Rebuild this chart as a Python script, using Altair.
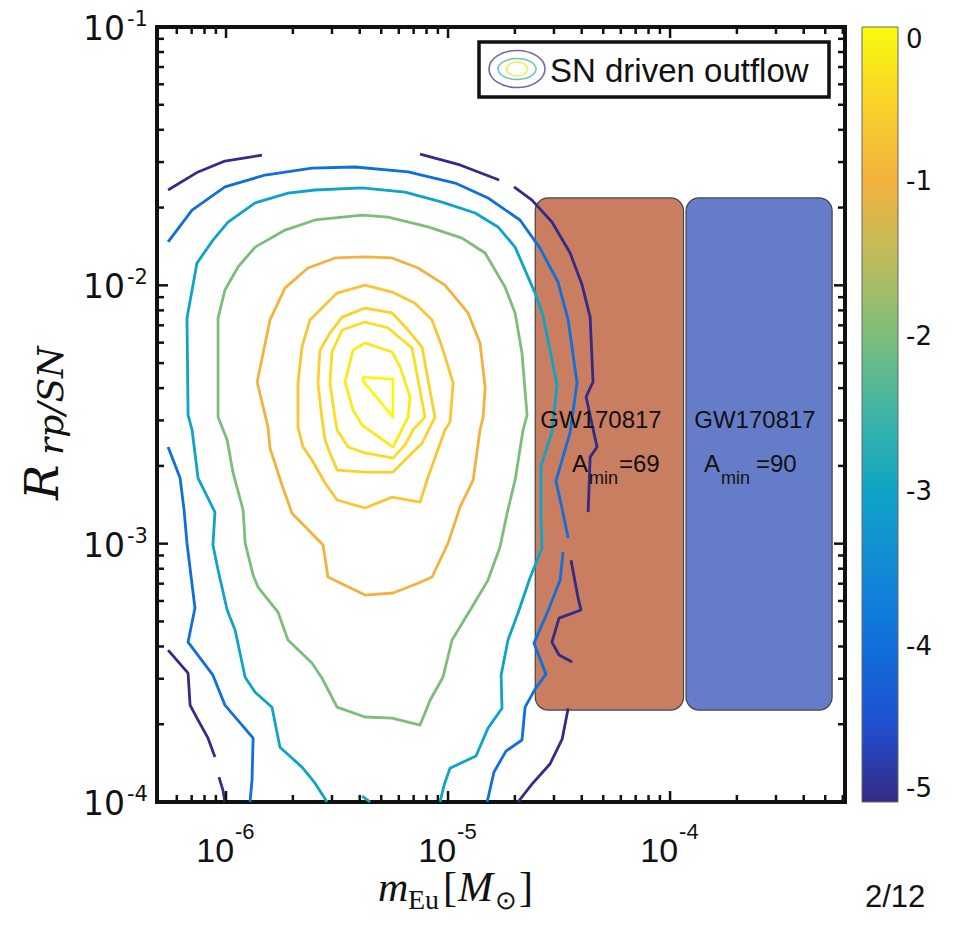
import altair as alt
import pandas as pd

# ---------------- data (log10 m_Eu, log10 R_rp/SN) ----------------
navy_1 = [(-6.261,-1.631),(-6.126,-1.561),(-6.005,-1.519),(-5.838,-1.496)]
navy_2 = [(-5.126,-1.492),(-4.946,-1.534),(-4.770,-1.592)]
navy_3 = [(-4.703,-1.619),(-4.622,-1.670),(-4.532,-1.755),(-4.450,-1.875),(-4.396,-1.999),(-4.360,-2.123),
          (-4.347,-2.374),(-4.378,-2.432),(-4.329,-2.626),(-4.360,-2.665),(-4.369,-2.878)]
navy_4 = [(-4.446,-3.064),(-4.414,-3.211),(-4.401,-3.257),(-4.500,-3.288),(-4.532,-3.381),(-4.500,-3.431),(-4.441,-3.458)]
navy_5 = [(-4.459,-3.637),(-4.486,-3.757),(-4.541,-3.853),(-4.622,-3.931),(-4.685,-4.0)]
navy_6 = [(-6.261,-3.412),(-6.171,-3.501),(-6.162,-3.625),(-6.126,-3.683),(-6.081,-3.753),(-6.050,-3.826)]
navy_7 = [(-6.032,-3.904),(-6.014,-3.954),(-6.005,-4.0)]

blue_1 = [(-6.261,-1.832),(-6.153,-1.709),(-6.005,-1.619),(-5.824,-1.573),(-5.613,-1.546),(-5.419,-1.542),
          (-5.180,-1.561),(-4.968,-1.604),(-4.820,-1.662),(-4.676,-1.747),(-4.586,-1.856),(-4.505,-1.987),
          (-4.459,-2.134),(-4.419,-2.378),(-4.450,-2.568),(-4.514,-2.758),(-4.486,-2.866),(-4.459,-2.978)]
blue_2 = [(-4.482,-3.033),(-4.495,-3.141),(-4.554,-3.269),(-4.613,-3.385),(-4.559,-3.505),(-4.608,-3.563),
          (-4.653,-3.633),(-4.667,-3.760),(-4.739,-3.803),(-4.793,-3.884),(-4.824,-4.0)]
blue_3 = [(-6.261,-2.626),(-6.207,-2.746),(-6.189,-2.870),(-6.176,-2.998),(-6.140,-3.249),(-6.171,-3.381),
          (-6.059,-3.509),(-6.005,-3.625),(-5.878,-3.753),(-5.883,-3.915),(-5.892,-4.0)]

cyan_1 = [(-5.545,-4.0),(-5.599,-3.927),(-5.658,-3.865),(-5.757,-3.788),(-5.793,-3.633),(-5.869,-3.575),
          (-5.914,-3.517),(-5.959,-3.335),(-5.995,-3.257),(-6.036,-3.102),(-6.059,-3.005),(-6.050,-2.878),
          (-6.126,-2.746),(-6.153,-2.560),(-6.171,-2.502),(-6.176,-2.127),(-6.131,-1.914),(-6.059,-1.825),
          (-5.991,-1.755),(-5.869,-1.681),(-5.721,-1.643),(-5.599,-1.631),(-5.387,-1.623),(-5.194,-1.639),
          (-5.027,-1.678),(-4.878,-1.720),(-4.775,-1.774),(-4.698,-1.852),(-4.608,-2.030),(-4.572,-2.119),
          (-4.509,-2.386),(-4.532,-2.568),(-4.581,-2.700),(-4.581,-2.901),(-4.577,-3.017),(-4.631,-3.133),
          (-4.680,-3.257),(-4.730,-3.373),(-4.761,-3.509),(-4.757,-3.637),(-4.820,-3.714),(-4.874,-3.822),
          (-4.991,-3.869),(-5.018,-3.935),(-5.036,-4.0)]
cyan_2 = [(-5.387,-3.977),(-5.351,-4.0)]

green_1 = [(-6.036,-2.510),(-6.036,-2.127),(-6.005,-2.018),(-5.946,-1.929),(-5.869,-1.852),(-5.734,-1.786),
           (-5.599,-1.747),(-5.387,-1.728),(-5.270,-1.736),(-5.090,-1.774),(-4.937,-1.817),(-4.833,-1.875),
           (-4.743,-2.007),(-4.698,-2.107),(-4.667,-2.262),(-4.644,-2.502),(-4.662,-2.560),(-4.698,-2.754),
           (-4.734,-2.882),(-4.766,-3.013),(-4.820,-3.141),(-4.892,-3.245),(-4.982,-3.373),(-5.023,-3.517),
           (-5.081,-3.606),(-5.126,-3.702),(-5.252,-3.675),(-5.374,-3.671),(-5.500,-3.633),(-5.568,-3.520),
           (-5.613,-3.462),(-5.721,-3.373),(-5.766,-3.265),(-5.856,-3.168),(-5.878,-3.122),(-5.914,-2.998),
           (-5.923,-2.870),(-5.968,-2.727),(-5.995,-2.599),(-6.036,-2.510)]

orange_1 = [(-5.860,-2.374),(-5.802,-2.134),(-5.734,-2.010),(-5.631,-1.933),(-5.509,-1.894),(-5.374,-1.890),
            (-5.252,-1.894),(-5.135,-1.933),(-5.014,-1.999),(-4.910,-2.107),(-4.856,-2.223),(-4.833,-2.394),
            (-4.842,-2.510),(-4.856,-2.560),(-4.887,-2.754),(-4.946,-2.858),(-5.000,-2.998),(-5.072,-3.129),
            (-5.135,-3.153),(-5.248,-3.191),(-5.374,-3.199),(-5.541,-3.129),(-5.563,-3.005),(-5.703,-2.882),
            (-5.748,-2.773),(-5.802,-2.630),(-5.811,-2.549),(-5.860,-2.374)]

yellow_1 = [(-5.676,-2.378),(-5.658,-2.239),(-5.622,-2.134),(-5.500,-2.030),(-5.374,-1.999),(-5.252,-2.026),
            (-5.149,-2.069),(-5.072,-2.134),(-5.027,-2.239),(-4.977,-2.378),(-4.991,-2.529),(-5.014,-2.560),
            (-5.090,-2.742),(-5.126,-2.839),(-5.252,-2.820),(-5.374,-2.862),(-5.500,-2.831),(-5.554,-2.765),
            (-5.613,-2.676),(-5.653,-2.626),(-5.676,-2.549),(-5.676,-2.378)]
yellow_2 = [(-5.586,-2.378),(-5.577,-2.251),(-5.532,-2.185),(-5.477,-2.123),(-5.374,-2.088),(-5.252,-2.107),
            (-5.180,-2.173),(-5.117,-2.239),(-5.090,-2.367),(-5.059,-2.510),(-5.117,-2.611),(-5.171,-2.657),
            (-5.248,-2.723),(-5.374,-2.723),(-5.500,-2.715),(-5.532,-2.649),(-5.554,-2.599),(-5.568,-2.514),
            (-5.586,-2.378)]
yellow_3 = [(-5.532,-2.378),(-5.523,-2.258),(-5.477,-2.173),(-5.374,-2.142),(-5.270,-2.165),(-5.162,-2.243),
            (-5.135,-2.367),(-5.104,-2.510),(-5.158,-2.560),(-5.194,-2.618),(-5.248,-2.669),(-5.374,-2.649),
            (-5.450,-2.626),(-5.500,-2.560),(-5.509,-2.514),(-5.532,-2.378)]
yellow_4 = [(-5.428,-2.251),(-5.374,-2.223),(-5.252,-2.258),(-5.216,-2.316),(-5.171,-2.432),(-5.180,-2.510),
            (-5.248,-2.626),(-5.387,-2.541),(-5.428,-2.483),(-5.464,-2.374),(-5.428,-2.251)]
yellow_5 = [(-5.383,-2.355),(-5.248,-2.363),(-5.248,-2.510),(-5.383,-2.371),(-5.383,-2.355)]

contour_segments = [
    (-5, navy_1), (-5, navy_2), (-5, navy_3), (-5, navy_4), (-5, navy_5), (-5, navy_6), (-5, navy_7),
    (-4, blue_1), (-4, blue_2), (-4, blue_3),
    (-3, cyan_1), (-3, cyan_2),
    (-2, green_1),
    (-1, orange_1),
    (-0.7, yellow_1), (-0.5, yellow_2), (-0.35, yellow_3), (-0.2, yellow_4), (-0.05, yellow_5),
]

# colour bar (parula-like)
cbar_stops = [-5, -4.5, -4, -3.5, -3, -2.5, -2, -1.5, -1, -0.5, 0]
cbar_colors = ["#352A87", "#1F4FD0", "#0F6FDC", "#138AD6", "#0DA4C6", "#3DB5A6",
               "#7BBE7C", "#BCBC5C", "#F3B23F", "#FAD22A", "#F9FB0E"]
cbar_labels = [0, -1, -2, -3, -4, -5]

# GW170817 boxes
box_names = ["Amin69", "Amin90"]
box_x_lo = [2.47e-5, 1.18e-4]
box_x_hi = [1.15e-4, 5.37e-4]
box_y_lo = [2.27e-4, 2.27e-4]
box_y_hi = [0.0218, 0.0218]
box_colors = ["#C97E62", "#657DC9"]

# axes
x_major = [1e-6, 1e-5, 1e-4]
x_major_exp = ["-6", "-5", "-4"]
x_minor = [m * 1e-7 for m in (6, 7, 8, 9)] + [m * 1e-6 for m in range(2, 10)] + \
          [m * 1e-5 for m in range(2, 10)] + [m * 1e-4 for m in range(2, 7)]
y_major = [1e-4, 1e-3, 1e-2, 1e-1]
y_major_exp = ["-4", "-3", "-2", "-1"]
y_minor = [m * 10.0 ** e for e in (-4, -3, -2) for m in range(2, 10)]

X_DOMAIN = [10 ** -6.311, 10 ** -3.212]
Y_DOMAIN = [1e-4, 1e-1]

# ---------------- build ----------------
W, H = 688, 775
SANS = "Liberation Sans"
WIDE = "DejaVu Sans"
SERIF = "Liberation Serif"
MATH = "DejaVu Serif"

xs = alt.Scale(type="log", domain=X_DOMAIN, nice=False)
ys = alt.Scale(type="log", domain=Y_DOMAIN, nice=False)

rows = []
for sid, (lev, pts) in enumerate(contour_segments):
    for i, (lx, ly) in enumerate(pts):
        rows.append({"seg": sid, "i": i, "mEu": 10 ** lx, "R": 10 ** ly, "level": lev})
cdf = pd.DataFrame(rows)

one = pd.DataFrame({"a": [0]})

boxes = alt.Chart(pd.DataFrame({"name": box_names, "x1": box_x_lo, "x2": box_x_hi,
                                "y1": box_y_lo, "y2": box_y_hi})).mark_rect(
    cornerRadius=13, stroke="#444444", strokeWidth=1.2
).encode(
    x=alt.X("x1:Q", scale=xs, axis=None), x2="x2:Q",
    y=alt.Y("y1:Q", scale=ys, axis=None), y2="y2:Q",
    fill=alt.Fill("name:N", scale=alt.Scale(domain=box_names, range=box_colors), legend=None),
)

contours = alt.Chart(cdf).mark_line(strokeWidth=2.8, strokeJoin="round", strokeCap="butt").encode(
    x=alt.X("mEu:Q", scale=xs, axis=None),
    y=alt.Y("R:Q", scale=ys, axis=None),
    detail="seg:N",
    order="i:Q",
    color=alt.Color("level:Q", scale=alt.Scale(domain=cbar_stops, range=cbar_colors),
                    legend=alt.Legend(orient="none", legendX=705, legendY=0, title=None,
                                      direction="vertical", gradientLength=H, gradientThickness=36,
                                      values=cbar_labels, labelFontSize=26, labelFont=WIDE,
                                      labelColor="#111111", labelOffset=8, padding=0,
                                      labelBaseline="middle", labelOverlap=False,
                                      labelExpr="datum.value == 0 ? '0' : '-' + format(abs(datum.value), 'd')",
                                      gradientStrokeColor="#666666", gradientStrokeWidth=1)),
)


def txt(s, x, y, size, font=SANS, align="left", style="normal", baseline="alphabetic", angle=0, color="#111111"):
    return alt.Chart(one).mark_text(text=s, fontSize=size, font=font, align=align, fontStyle=style,
                                    baseline=baseline, angle=angle, color=color).encode(
        x=alt.value(x), y=alt.value(y))


annots = [
    txt("GW170817", 444, 394, 24, align="center", baseline="middle"),
    txt("GW170817", 598, 394, 24, align="center", baseline="middle"),
    txt("A", 415, 445, 24), txt("min", 432, 457, 18), txt("=69", 462, 445, 24),
    txt("A", 547, 445, 24), txt("min", 564, 457, 18), txt("=90", 599, 445, 24),
]

legend_box = alt.Chart(one).mark_rect(fill="white", stroke="#111111", strokeWidth=3.5).encode(
    x=alt.value(322), x2=alt.value(672), y=alt.value(15), y2=alt.value(70))
ell = "M -1 0 A 1 0.66 0 1 1 1 0 A 1 0.66 0 1 1 -1 0 Z"
ell2 = "M -1 0 A 1 0.55 0 1 1 1 0 A 1 0.55 0 1 1 -1 0 Z"
icons = [
    alt.Chart(one).mark_point(shape=ell, size=3136, filled=False, color="#352A87", strokeWidth=1.6).encode(
        x=alt.value(360), y=alt.value(42)),
    alt.Chart(one).mark_point(shape=ell2, size=1444, filled=False, color="#2BB0A0", strokeWidth=1.6).encode(
        x=alt.value(360), y=alt.value(42)),
    alt.Chart(one).mark_point(shape=ell, size=441, filled=False, color="#F2E21C", strokeWidth=1.6).encode(
        x=alt.value(360), y=alt.value(42)),
]
legend_text = txt("SN driven outflow", 393, 55, 33)


def xtick_layer(vals, length, top):
    return alt.Chart(pd.DataFrame({"mEu": vals})).mark_rule(color="#111111", strokeWidth=2.5).encode(
        x=alt.X("mEu:Q", scale=xs, axis=None),
        y=alt.value(0 if top else H), y2=alt.value(length if top else H - length))


def ytick_layer(vals, length, right):
    return alt.Chart(pd.DataFrame({"R": vals})).mark_rule(color="#111111", strokeWidth=2.5).encode(
        y=alt.Y("R:Q", scale=ys, axis=None),
        x=alt.value(W if right else 0), x2=alt.value(W - length if right else length))


ticks = [xtick_layer(x_major, 11, False), xtick_layer(x_major, 11, True),
         xtick_layer(x_minor, 7, False), xtick_layer(x_minor, 7, True),
         ytick_layer(y_major, 11, False), ytick_layer(y_major, 11, True),
         ytick_layer(y_minor, 7, False), ytick_layer(y_minor, 7, True)]

xlab_df = pd.DataFrame({"mEu": x_major, "base": ["10"] * 3, "exp": x_major_exp})
ylab_df = pd.DataFrame({"R": y_major, "base": ["10"] * 4, "exp": y_major_exp})

xlabels = [
    alt.Chart(xlab_df).mark_text(fontSize=34, font=SANS, align="right", baseline="alphabetic",
                                 dx=8, color="#111111").encode(
        x=alt.X("mEu:Q", scale=xs, axis=None), y=alt.value(835), text="base:N"),
    alt.Chart(xlab_df).mark_text(fontSize=22, font=SANS, align="left", baseline="alphabetic",
                                 dx=9, color="#111111").encode(
        x=alt.X("mEu:Q", scale=xs, axis=None), y=alt.value(812), text="exp:N"),
]
ylabels = [
    alt.Chart(ylab_df).mark_text(fontSize=33, font=WIDE, align="right", baseline="alphabetic",
                                 dy=13, color="#111111").encode(
        y=alt.Y("R:Q", scale=ys, axis=None), x=alt.value(-32), text="base:N"),
    alt.Chart(ylab_df).mark_text(fontSize=21, font=WIDE, align="left", baseline="alphabetic",
                                 dy=-1, color="#111111").encode(
        y=alt.Y("R:Q", scale=ys, axis=None), x=alt.value(-30), text="exp:N"),
]

titles = [
    txt("m", 221, 874, 42, font=SERIF, style="italic"),
    txt("Eu", 251, 882, 28, font=SERIF),
    txt("[", 286, 874, 42, font=SERIF),
    txt("M", 301, 874, 42, font=SERIF, style="italic"),
    txt("⊙", 338, 882, 26, font=SERIF),
    txt("]", 362, 874, 42, font=SERIF),
    txt("R", -99, 473, 47, font=MATH, style="italic", angle=270),
    txt("rp/SN", -94, 428, 36, font=MATH, style="italic", angle=270),
    txt("2/12", 708, 880, 31),
]

chart = alt.layer(
    boxes, contours, *annots, legend_box, *icons, legend_text, *ticks, *xlabels, *ylabels, *titles
).properties(
    width=W, height=H,
    padding={"left": 149, "top": 19, "right": 101, "bottom": 114},
    autosize=alt.AutoSizeParams(type="none"),
    background="white",
).configure_view(stroke="#111111", strokeWidth=4)

chart.save("out.html", embed_options={"renderer": "svg", "actions": False})
